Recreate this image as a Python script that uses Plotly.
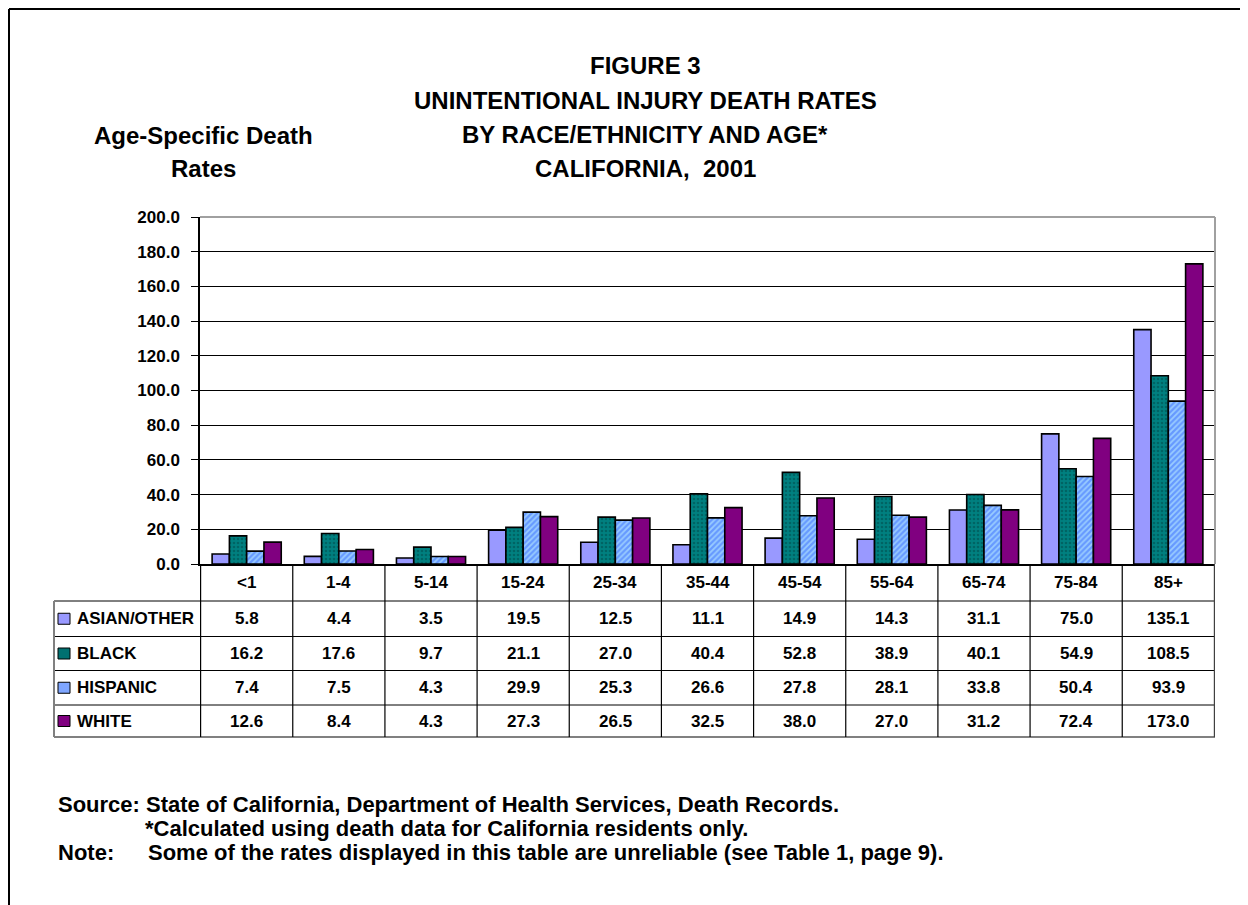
import plotly.graph_objects as go

categories = ["<1", "1-4", "5-14", "15-24", "25-34", "35-44", "45-54", "55-64", "65-74", "75-84", "85+"]
series_names = ["ASIAN/OTHER", "BLACK", "HISPANIC", "WHITE"]
asian_other = [5.8, 4.4, 3.5, 19.5, 12.5, 11.1, 14.9, 14.3, 31.1, 75.0, 135.1]
black = [16.2, 17.6, 9.7, 21.1, 27.0, 40.4, 52.8, 38.9, 40.1, 54.9, 108.5]
hispanic = [7.4, 7.5, 4.3, 29.9, 25.3, 26.6, 27.8, 28.1, 33.8, 50.4, 93.9]
white = [12.6, 8.4, 4.3, 27.3, 26.5, 32.5, 38.0, 27.0, 31.2, 72.4, 173.0]
y_ticks = [0, 20, 40, 60, 80, 100, 120, 140, 160, 180, 200]

title_lines = ["FIGURE 3", "UNINTENTIONAL INJURY DEATH RATES", "BY RACE/ETHNICITY AND AGE*", "CALIFORNIA,  2001"]
ytitle_lines = ["Age-Specific Death", "Rates"]
footnotes = [
    "Source: State of California, Department of Health Services, Death Records.",
    "*Calculated using death data for California residents only.",
    "Note:",
    "Some of the rates displayed in this table are unreliable (see Table 1, page 9).",
]

series_values = [asian_other, black, hispanic, white]
styles = [
    dict(color="#9999FF"),
    dict(color="#008080", pattern=dict(shape=".", bgcolor="#008080", fgcolor="#004848", size=4, solidity=0.35)),
    dict(color="#8FC0FF", pattern=dict(shape="/", bgcolor="#99CCFF", fgcolor="#3366FF", size=4, solidity=0.55)),
    dict(color="#800080"),
]
legend_fill = ["#9999FF", "#007070", "#7FA6FF", "#800080"]

# page body has an 8px margin; figure sized to fit the 1248x905 window
OFF = 8
W, H = 1240, 897
L, R, T, B = 192, 33, 209, 341
PW, PH = W - L - R, H - T - B


def px(sx):
    return (sx - OFF - L) / PW


def py(sy):
    return (H - B - (sy - OFF)) / PH


FONT = "Liberation Sans"

fig = go.Figure()
for name, vals, st in zip(series_names, series_values, styles):
    fig.add_trace(go.Bar(
        x=categories, y=vals, name=name,
        marker=dict(**st, line=dict(color="#000000", width=1.6)),
        showlegend=False,
    ))

shapes = []
annotations = []

# table geometry (screen pixel rows)
row_edges = [601, 636.5, 670.5, 705, 737]
table_left = 54
for i, ye in enumerate(row_edges):
    last = i == len(row_edges) - 1
    shapes.append(dict(type="line", xref="paper", yref="paper",
                       x0=px(table_left), x1=1, y0=py(ye), y1=py(ye),
                       line=dict(color="#808080" if last else "#000000", width=2 if last else 1)))
for i in range(len(categories) + 1):
    shapes.append(dict(type="line", xref="x", yref="paper",
                       x0=i - 0.5, x1=i - 0.5, y0=py(564), y1=py(row_edges[-1]),
                       line=dict(color="#000000" if i < len(categories) else "#404040", width=1.2)))
shapes.append(dict(type="line", xref="paper", yref="paper",
                   x0=px(table_left), x1=px(table_left), y0=py(row_edges[0]), y1=py(row_edges[-1]),
                   line=dict(color="#808080", width=2)))

# plot frame top / right (grey)
shapes.append(dict(type="line", xref="paper", yref="paper", x0=0, x1=1, y0=1, y1=1,
                   line=dict(color="#A0A0A0", width=2), layer="above"))
shapes.append(dict(type="line", xref="paper", yref="paper", x0=1, x1=1, y0=0, y1=1,
                   line=dict(color="#A0A0A0", width=2), layer="above"))

# outer border (left and top)
shapes.append(dict(type="line", xref="paper", yref="paper", x0=px(9), x1=px(9), y0=py(9), y1=py(920),
                   line=dict(color="#000000", width=2)))
shapes.append(dict(type="line", xref="paper", yref="paper", x0=px(9), x1=px(1260), y0=py(9), y1=py(9),
                   line=dict(color="#000000", width=2)))

bold17 = dict(family=FONT, size=17, color="#000000", weight="bold")

for c in categories:
    annotations.append(dict(x=c, y=py((564 + row_edges[0]) / 2), xref="x", yref="paper",
                            text=c, showarrow=False, xanchor="center", yanchor="middle", font=bold17))

for r, (name, vals) in enumerate(zip(series_names, series_values)):
    yc = (row_edges[r] + row_edges[r + 1]) / 2
    shapes.append(dict(type="rect", xref="paper", yref="paper",
                       x0=px(58), x1=px(70), y0=py(yc - 5.5), y1=py(yc + 5.5),
                       fillcolor=legend_fill[r], line=dict(color="#000000", width=1)))
    annotations.append(dict(x=px(75), y=py(yc), xref="paper", yref="paper",
                            text=name, showarrow=False, xanchor="left", yanchor="middle", font=bold17))
    for c, v in zip(categories, vals):
        annotations.append(dict(x=c, y=py(yc), xref="x", yref="paper",
                                text=f"{v:.1f}", showarrow=False, xanchor="center", yanchor="middle",
                                font=bold17))

title_y = [66, 100, 134, 168]
for t, yy in zip(title_lines, title_y):
    annotations.append(dict(x=px(645), y=py(yy), xref="paper", yref="paper", text=t,
                            showarrow=False, xanchor="center", yanchor="middle",
                            font=dict(family=FONT, size=24, color="#000000", weight="bold")))
for t, yy in zip(ytitle_lines, [135, 168]):
    annotations.append(dict(x=px(203), y=py(yy), xref="paper", yref="paper", text=t,
                            showarrow=False, xanchor="center", yanchor="middle",
                            font=dict(family=FONT, size=24, color="#000000", weight="bold")))

foot_pos = [(56, 804), (143, 828), (56, 852), (146, 852)]
for t, (xx, yy) in zip(footnotes, foot_pos):
    annotations.append(dict(x=px(xx), y=py(yy), xref="paper", yref="paper", text=t,
                            showarrow=False, xanchor="left", yanchor="middle",
                            font=dict(family=FONT, size=22, color="#000000", weight="bold")))

fig.update_layout(
    width=W, height=H,
    margin=dict(l=L, r=R, t=T, b=B, pad=0),
    paper_bgcolor="#FFFFFF", plot_bgcolor="#FFFFFF",
    font=dict(family=FONT, size=17, color="#000000", weight="bold"),
    barmode="group", bargap=0.25, bargroupgap=0,
    shapes=shapes, annotations=annotations,
    xaxis=dict(showticklabels=False, ticks="", showgrid=False, showline=True,
               linecolor="#000000", linewidth=1.5, zeroline=False, fixedrange=True),
    yaxis=dict(range=[0, 200], tickvals=y_ticks, ticktext=[f"{v:.1f}" for v in y_ticks],
               ticks="outside", ticklen=7, tickcolor="#000000", tickwidth=1,
               ticklabelstandoff=8,
               showgrid=True, gridcolor="#000000", gridwidth=1,
               showline=True, linecolor="#000000", linewidth=1.5, zeroline=False,
               tickfont=bold17),
)

fig.write_html("out.html")
